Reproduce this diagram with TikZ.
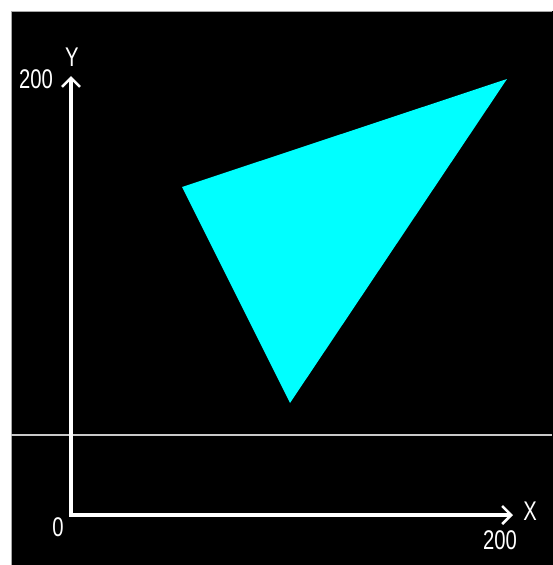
\documentclass[tikz,border=0pt]{standalone}
\usepackage{fontspec}
\setmainfont{Liberation Sans}
\usetikzlibrary{arrows.meta}
\definecolor{tricyan}{RGB}{0,255,255}
\definecolor{hlgray}{RGB}{200,200,200}
\begin{document}
\begin{tikzpicture}[x=1pt,y=-1pt,
  axis/.style={draw=white,line width=3.5pt,-{Straight Barb[length=9pt,width=18pt,line width=2.5pt]}},
  lbl/.style={text=white,font=\fontsize{27}{27}\selectfont,inner sep=0pt,xscale=0.75}]
\useasboundingbox (0,0) rectangle (552,565);
\fill[white] (0,0) rectangle (552,565);
\fill[black] (11,11) rectangle (553,566);
\draw[gray!70,line width=1pt] (11,565) -- (11,11) -- (552,11);
% horizontal line
\coordinate (hl) at (11,435);
\coordinate (hr) at (552,435);
\draw[hlgray,line width=2.5pt] (hl) -- (hr);
% triangle
\coordinate (A) at (182,187);
\coordinate (B) at (507,79);
\coordinate (C) at (290,403);
\fill[tricyan] (A) -- (B) -- (C) -- cycle;
% axes
\coordinate (O) at (71,515);
\coordinate (Ytip) at (71,76);
\coordinate (Xtip) at (513,515);
\draw[axis] (O) -- (Ytip);
\draw[axis] (O) -- (Xtip);
\draw[white,line width=3.5pt] (71,513) -- (O) -- (73,515);
% labels
\node[lbl] (ylbl) at (72,57) {Y};
\node[lbl] (ymax) at (36,79) {200};
\node[lbl] (zero) at (58,527) {0};
\node[lbl] (xlbl) at (530,511) {X};
\node[lbl] (xmax) at (500,540) {200};
\end{tikzpicture}
\end{document}
